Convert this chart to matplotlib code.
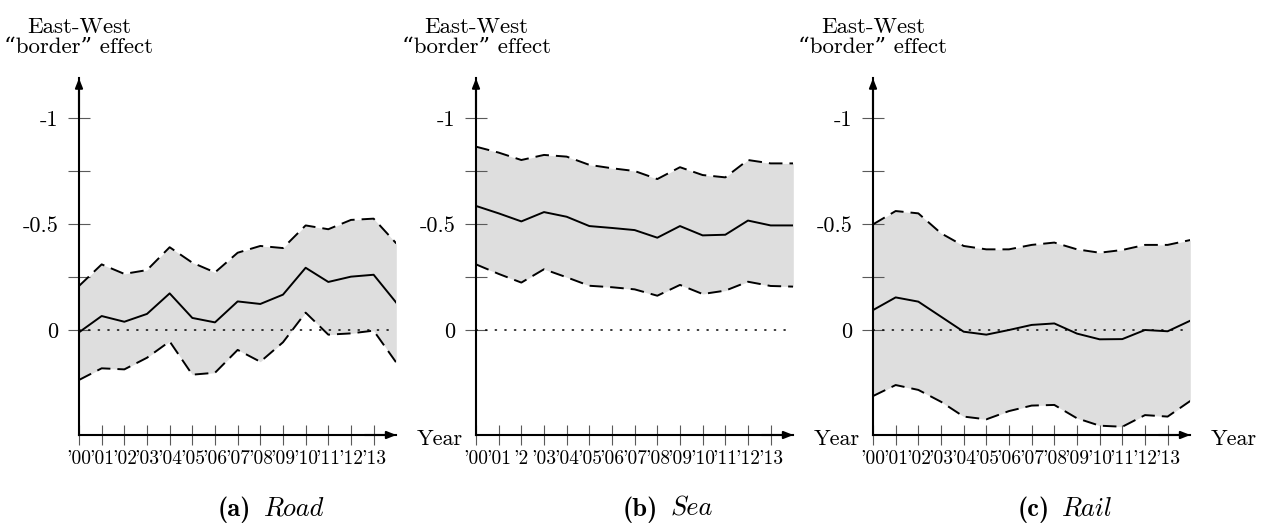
import numpy as np
import matplotlib
matplotlib.use("Agg")
import matplotlib.pyplot as plt
from matplotlib.offsetbox import TextArea, HPacker, AnnotationBbox

plt.rcParams["font.family"] = ["cmr10", "DejaVu Serif"]
plt.rcParams["axes.unicode_minus"] = False

# ---- data -------------------------------------------------------------
year_index = np.arange(15)
year_ticks = np.arange(14)
year_labels = ["'00", "'01", "'02", "'03", "'04", "'05", "'06", "'07",
               "'08", "'09", "'10", "'11", "'12", "'13"]
year_labels_sea = ["'00", "'01", "'2", "'03", "'04", "'05", "'06", "'07",
                   "'08", "'09", "'10", "'11", "'12", "'13"]

road_mean = [0.011, -0.066, -0.039, -0.076, -0.173, -0.057, -0.036, -0.135,
             -0.123, -0.167, -0.294, -0.227, -0.252, -0.261, -0.129]
road_upper = [-0.208, -0.310, -0.265, -0.283, -0.391, -0.318, -0.272, -0.365,
              -0.397, -0.387, -0.494, -0.476, -0.520, -0.526, -0.409]
road_lower = [0.236, 0.181, 0.186, 0.131, 0.054, 0.211, 0.202, 0.094,
              0.150, 0.058, -0.082, 0.022, 0.016, 0.003, 0.154]

sea_mean = [-0.586, -0.551, -0.513, -0.557, -0.535, -0.491, -0.482, -0.472,
            -0.436, -0.491, -0.447, -0.450, -0.517, -0.494, -0.494]
sea_upper = [-0.866, -0.838, -0.803, -0.827, -0.819, -0.780, -0.764, -0.751,
             -0.713, -0.769, -0.732, -0.721, -0.803, -0.787, -0.787]
sea_lower = [-0.310, -0.265, -0.224, -0.287, -0.249, -0.209, -0.202, -0.192,
             -0.162, -0.213, -0.170, -0.186, -0.228, -0.208, -0.205]

rail_mean = [-0.094, -0.154, -0.134, -0.063, 0.008, 0.022, 0.000, -0.024,
             -0.031, 0.017, 0.044, 0.043, 0.000, 0.006, -0.044]
rail_upper = [-0.499, -0.562, -0.551, -0.457, -0.397, -0.381, -0.381, -0.402,
              -0.413, -0.381, -0.365, -0.378, -0.402, -0.402, -0.425]
rail_lower = [0.312, 0.260, 0.283, 0.339, 0.409, 0.422, 0.383, 0.357,
              0.354, 0.417, 0.452, 0.457, 0.402, 0.409, 0.335]

y_ticks = [-1, -0.75, -0.5, -0.25, 0]
y_labels = ["-1", "", "-0.5", "", "0"]

panels = [
    ("(a)", "Road", road_mean, road_upper, road_lower, year_labels),
    ("(b)", "Sea", sea_mean, sea_upper, sea_lower, year_labels_sea),
    ("(c)", "Rail", rail_mean, rail_upper, rail_lower, year_labels),
]

# ---- layout -----------------------------------------------------------
W, H = 1263, 523
fig = plt.figure(figsize=(W / 100, H / 100), dpi=100)

axis_left_px = [79, 476, 873]
axis_width_px = 317.3
axis_bottom_px = 435
axis_top_px = 78.3
y_bottom_val = 0.496
y_top_val = -1.189

fill_color = "#dedede"
tick_color = "#5a5a5a"

for (tag, name, mean, upper, lower, xlabels), x0 in zip(panels, axis_left_px):
    ax = fig.add_axes([x0 / W, (H - axis_bottom_px) / H,
                       axis_width_px / W, (axis_bottom_px - axis_top_px) / H])
    ax.set_xlim(0, 14)
    ax.set_ylim(y_bottom_val, y_top_val)
    ax.patch.set_visible(False)

    ax.fill_between(year_index, upper, lower, color=fill_color, lw=0, zorder=1)
    ax.axhline(0, color="black", lw=1.1, linestyle=(0, (0.8, 5.5)),
               dash_capstyle="round", zorder=2)
    ax.plot(year_index, upper, color="black", lw=1.4,
            linestyle=(0, (7, 3.6)), zorder=3)
    ax.plot(year_index, lower, color="black", lw=1.4,
            linestyle=(0, (7, 3.6)), zorder=3)
    ax.plot(year_index, mean, color="black", lw=1.4, zorder=3)

    for side in ("top", "right"):
        ax.spines[side].set_visible(False)
    for side in ("left", "bottom"):
        ax.spines[side].set_linewidth(1.5)
        ax.spines[side].set_zorder(4)

    ax.set_xticks(year_ticks)
    ax.set_xticklabels(xlabels, fontsize=14)
    ax.set_yticks(y_ticks)
    ax.set_yticklabels(y_labels, fontsize=16)
    ax.tick_params(axis="x", direction="inout", length=14.5, width=0.8,
                   color=tick_color, pad=3.5)
    ax.tick_params(axis="y", direction="inout", length=16, width=0.8,
                   color=tick_color, pad=7)

    # arrow heads on both axes
    arrow = dict(arrowstyle="-|>,head_length=0.55,head_width=0.22",
                 color="black", lw=1.5, shrinkA=0, shrinkB=0)
    ax.annotate("", xy=(1, 0), xytext=(0.9, 0), xycoords="axes fraction",
                arrowprops=arrow, zorder=5)
    ax.annotate("", xy=(0, 1), xytext=(0, 0.9), xycoords="axes fraction",
                arrowprops=arrow, zorder=5)

    fig.text(x0 / W, (H - 37) / H, "East-West\n\u201cborder\u201d effect",
             ha="center", va="center", fontsize=16.5, linespacing=1.05)
    fig.text((x0 + axis_width_px + 20) / W, (H - 445) / H, "Year",
             ha="left", va="baseline", fontsize=16)

    # sub-caption: bold tag followed by italic name
    caption = HPacker(children=[
        TextArea(tag, textprops=dict(family="cmb10", fontsize=19)),
        TextArea(name, textprops=dict(family="cmmi10", fontsize=19)),
    ], sep=9, pad=0, align="baseline")
    fig.add_artist(AnnotationBbox(caption, ((x0 + 192) / W, (H - 523) / H),
                                  xycoords="figure fraction",
                                  box_alignment=(0.5, 0.0), frameon=False,
                                  pad=0))

fig.savefig("out.png", dpi=100)
